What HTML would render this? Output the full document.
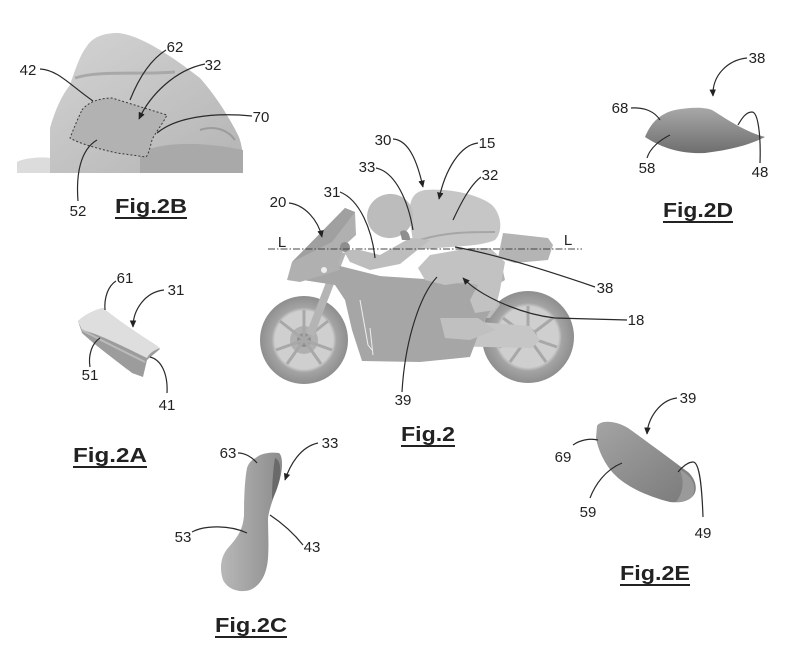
<!DOCTYPE html>
<html><head><meta charset="utf-8"><style>
html,body{margin:0;padding:0;background:#fff;}
svg{display:block;}
text{font-family:"Liberation Sans",Arial,sans-serif;fill:#222;}
.n{font-size:15px;text-anchor:middle;}
.f{font-size:20px;font-weight:bold;}
.ld{fill:none;stroke:#2a2a2a;stroke-width:1.2;}
</style></head><body>
<svg width="800" height="647" viewBox="0 0 800 647" xmlns="http://www.w3.org/2000/svg">
<defs>
<marker id="a" viewBox="0 0 10 10" refX="9" refY="5" markerWidth="6" markerHeight="6" orient="auto"><path d="M0,0.5 L10,5 L0,9.5 z" fill="#222"/></marker>
<linearGradient id="gD" x1="0" y1="0" x2="0" y2="1"><stop offset="0" stop-color="#a8a8a8"/><stop offset="1" stop-color="#6e6e6e"/></linearGradient>
<linearGradient id="gE" x1="0" y1="0" x2="1" y2="1"><stop offset="0" stop-color="#a4a4a4"/><stop offset="0.6" stop-color="#8a8a8a"/><stop offset="1" stop-color="#7a7a7a"/></linearGradient>
<linearGradient id="gC" x1="0" y1="0" x2="1" y2="0"><stop offset="0" stop-color="#b8b8b8"/><stop offset="1" stop-color="#8c8c8c"/></linearGradient>
<linearGradient id="gB" x1="0" y1="0" x2="1" y2="1"><stop offset="0" stop-color="#d6d6d6"/><stop offset="1" stop-color="#b4b4b4"/></linearGradient>
<radialGradient id="gW" cx="0.5" cy="0.5" r="0.5"><stop offset="0.66" stop-color="#cfcfcf"/><stop offset="0.74" stop-color="#a4a4a4"/><stop offset="1" stop-color="#8e8e8e"/></radialGradient>
</defs>

<!-- ===== Fig 2B ===== -->
<path d="M17,173 L17,162 C25,158 40,157 50,158 L50,128 C55,110 62,95 70,85 C75,70 80,55 87,46 C92,38 102,33 118,33 C140,35 170,55 200,78 C215,95 228,115 238,135 C243,145 243,160 243,173 Z" fill="url(#gB)"/>
<path d="M17,173 L17,162 C25,158 40,157 50,158 L50,173 Z" fill="#dcdcdc"/>
<path d="M75,78 C100,70 140,75 175,72" fill="none" stroke="#a8a8a8" stroke-width="3"/>
<path d="M140,152 C170,140 210,143 243,150 L243,173 L140,173 Z" fill="#a9a9a9"/>
<path d="M200,130 C215,125 228,130 235,140" fill="none" stroke="#9c9c9c" stroke-width="2"/>
<path d="M82,110 C88,102 100,98 112,98 L167,115 C162,125 155,133 152,140 C150,148 148,155 146,157 L117,153 C95,148 78,143 70,138 C74,128 78,118 82,110 Z" fill="#b2b2b2" stroke="#3a3a3a" stroke-width="1" stroke-dasharray="2,2"/>

<text class="n" x="28" y="75">42</text>
<text class="n" x="175" y="52">62</text>
<text class="n" x="213" y="70">32</text>
<text class="n" x="261" y="122">70</text>
<text class="n" x="78" y="216">52</text>
<path class="ld" d="M40,69 C58,70 70,85 93,101"/>
<path class="ld" d="M166,50 C150,60 138,80 130,100"/>
<path class="ld" d="M205,64 C175,70 150,95 139,119" marker-end="url(#a)"/>
<path class="ld" d="M252,116 C210,112 175,118 157,133"/>
<path class="ld" d="M78,201 C76,175 80,150 97,140"/>
<text class="f" x="115" y="213" textLength="72" lengthAdjust="spacingAndGlyphs">Fig.2B</text>
<line x1="115" y1="218" x2="187" y2="218" stroke="#222" stroke-width="2"/>

<!-- ===== Fig 2 bike ===== -->
<!-- rear wheel -->
<circle cx="528" cy="337" r="46" fill="url(#gW)"/>
<circle cx="528" cy="337" r="9" fill="#a0a0a0"/>
<g stroke="#a8a8a8" stroke-width="3">
<line x1="528" y1="337" x2="528" y2="306"/><line x1="528" y1="337" x2="557" y2="347"/><line x1="528" y1="337" x2="546" y2="362"/><line x1="528" y1="337" x2="510" y2="362"/><line x1="528" y1="337" x2="499" y2="347"/><line x1="528" y1="337" x2="553" y2="318"/><line x1="528" y1="337" x2="503" y2="318"/>
</g>
<!-- swingarm -->
<path d="M430,318 L530,326 L540,340 L532,348 L440,346 L425,335 Z" fill="#c6c6c6"/>
<!-- front wheel -->
<circle cx="304" cy="340" r="44" fill="url(#gW)"/>
<circle cx="304" cy="340" r="14" fill="#b0b0b0"/>
<circle cx="304" cy="340" r="7" fill="#909090"/>
<g stroke="#a8a8a8" stroke-width="3">
<line x1="304" y1="340" x2="304" y2="310"/><line x1="304" y1="340" x2="332" y2="350"/><line x1="304" y1="340" x2="321" y2="364"/><line x1="304" y1="340" x2="287" y2="364"/><line x1="304" y1="340" x2="276" y2="350"/><line x1="304" y1="340" x2="328" y2="321"/><line x1="304" y1="340" x2="280" y2="321"/>
</g>
<!-- fork -->
<line x1="310" y1="335" x2="342" y2="252" stroke="#b4b4b4" stroke-width="8"/>
<!-- engine area -->
<path d="M440,282 L490,285 L500,305 L490,318 L445,318 Z" fill="#bcbcbc"/>
<!-- main fairing -->
<path d="M290,278 L340,266 L380,276 L440,280 L488,288 L496,300 L480,330 L470,357 L420,362 L362,361 L352,330 L345,300 L335,285 Z" fill="#a6a6a6"/>
<path d="M360,300 L368,345 L372,350" fill="none" stroke="#eee" stroke-width="1"/>
<path d="M370,328 L373,355" fill="none" stroke="#eee" stroke-width="1"/>
<path d="M440,318 L478,318 L495,330 L470,340 L445,338 Z" fill="#c0c0c0"/>
<!-- front upper fairing -->
<path d="M287,280 L292,262 L345,208 L355,212 L356,235 L345,245 L338,262 L340,270 L300,282 Z" fill="#b0b0b0"/>
<path d="M292,262 L345,208 L355,212 L332,242 Z" fill="#a0a0a0"/>
<circle cx="324" cy="270" r="3" fill="#eee"/>
<!-- tail -->
<path d="M498,258 L503,233 L548,238 L553,245 L548,260 L515,263 Z" fill="#b4b4b4"/>
<path d="M455,262 L500,258 L505,280 L488,290 L455,282 Z" fill="#b2b2b2"/>
<!-- rider legs -->
<path d="M418,268 L430,255 L470,248 L490,248 L505,262 L500,290 L495,310 L475,313 L470,300 L478,285 L465,282 L445,285 L425,280 Z" fill="#c2c2c2"/>
<!-- torso -->
<path d="M410,222 C408,202 412,192 425,190 C450,188 480,195 492,205 C502,215 503,232 495,240 C480,247 450,246 430,249 L414,248 Z" fill="#c6c6c6"/>
<path d="M420,240 C445,232 470,232 495,232" fill="none" stroke="#a6a6a6" stroke-width="2"/>
<!-- arm -->
<path d="M410,238 L430,240 L400,264 L370,270 L350,262 L343,250 L360,250 L380,255 Z" fill="#bdbdbd"/>
<!-- handlebar -->
<circle cx="345" cy="247" r="5" fill="#8e8e8e"/>
<!-- helmet -->
<ellipse cx="390" cy="216" rx="23" ry="22" transform="rotate(-15 390 216)" fill="#bcbcbc"/>
<path d="M400,232 C405,228 410,232 410,240 L402,240 Z" fill="#8e8e8e"/>

<!-- L axis -->
<line x1="268" y1="249" x2="582" y2="249" stroke="#444" stroke-width="1" stroke-dasharray="7,2,1.5,2"/>
<text class="n" x="282" y="247">L</text>
<text class="n" x="568" y="245">L</text>

<!-- Fig 2 labels -->
<text class="n" x="278" y="207">20</text>
<text class="n" x="332" y="197">31</text>
<text class="n" x="367" y="172">33</text>
<text class="n" x="383" y="145">30</text>
<text class="n" x="487" y="148">15</text>
<text class="n" x="490" y="180">32</text>
<text class="n" x="605" y="293">38</text>
<text class="n" x="636" y="325">18</text>
<text class="n" x="403" y="405">39</text>
<path class="ld" d="M289,203 C305,205 318,220 322,237" marker-end="url(#a)"/>
<path class="ld" d="M340,192 C360,200 372,230 375,258"/>
<path class="ld" d="M376,168 C395,172 408,200 413,230"/>
<path class="ld" d="M393,139 C410,140 418,165 423,187" marker-end="url(#a)"/>
<path class="ld" d="M478,143 C460,145 445,170 439,199" marker-end="url(#a)"/>
<path class="ld" d="M481,177 C470,185 460,205 453,220"/>
<path class="ld" d="M595,287 C560,275 500,255 455,247"/>
<path class="ld" d="M627,320 L555,318 C520,314 480,296 463,278" marker-end="url(#a)"/>
<path class="ld" d="M402,392 C405,340 420,295 437,277"/>
<text class="f" x="401" y="441" textLength="54" lengthAdjust="spacingAndGlyphs">Fig.2</text>
<line x1="401" y1="446" x2="455" y2="446" stroke="#222" stroke-width="2"/>

<!-- ===== Fig 2D ===== -->
<path d="M645,137 C650,125 658,114 675,110 C690,107 705,107 712,110 C725,118 745,132 765,137 C750,145 730,150 705,153 C685,154 665,150 645,137 Z" fill="url(#gD)"/>
<text class="n" x="757" y="63">38</text>
<text class="n" x="620" y="113">68</text>
<text class="n" x="647" y="173">58</text>
<text class="n" x="760" y="177">48</text>
<path class="ld" d="M747,58 C728,60 712,75 713,96" marker-end="url(#a)"/>
<path class="ld" d="M631,108 C645,107 655,112 660,120"/>
<path class="ld" d="M647,158 C650,148 660,140 670,135"/>
<path class="ld" d="M760,163 C761,135 758,112 752,112 C746,112 742,118 738,125"/>
<text class="f" x="663" y="217" textLength="70" lengthAdjust="spacingAndGlyphs">Fig.2D</text>
<line x1="663" y1="222" x2="733" y2="222" stroke="#222" stroke-width="2"/>

<!-- ===== Fig 2A ===== -->
<path d="M78,321 L82,333 C95,345 115,360 132,373 L143,377 L147,360 L160,349 L157,346 C140,335 120,322 103,308 C95,310 86,314 78,321 Z" fill="#9c9c9c"/>
<path d="M78,321 C86,314 95,310 103,308 C120,322 140,335 160,348 C155,350 150,352 147,358 C130,350 100,334 82,330 Z" fill="#dedede"/>
<path d="M82,330 C100,340 125,352 145,362" fill="none" stroke="#bbb" stroke-width="2"/>
<text class="n" x="125" y="283">61</text>
<text class="n" x="176" y="295">31</text>
<text class="n" x="90" y="380">51</text>
<text class="n" x="167" y="410">41</text>
<path class="ld" d="M116,281 C108,286 104,298 105,310"/>
<path class="ld" d="M164,290 C145,292 133,310 133,327" marker-end="url(#a)"/>
<path class="ld" d="M90,367 C88,355 92,343 100,338"/>
<path class="ld" d="M167,393 C168,375 162,360 150,357"/>
<text class="f" x="73" y="462" textLength="74" lengthAdjust="spacingAndGlyphs">Fig.2A</text>
<line x1="73" y1="467" x2="147" y2="467" stroke="#222" stroke-width="2"/>

<!-- ===== Fig 2C ===== -->
<path d="M257,457 C262,453 272,452 279,453 C283,456 283,470 279,482 C275,495 270,505 268,518 C268,530 269,545 268,558 C267,572 262,585 250,590 C240,593 228,590 223,580 C219,568 221,556 228,548 C237,538 243,530 244,515 C244,495 245,478 247,468 C249,462 252,460 257,457 Z" fill="url(#gC)"/>
<path d="M275,458 C280,460 282,470 279,482 C277,490 274,496 272,500 C272,485 273,470 275,458 Z" fill="#6a6a6a"/>
<text class="n" x="330" y="448">33</text>
<text class="n" x="228" y="458">63</text>
<text class="n" x="183" y="542">53</text>
<text class="n" x="312" y="552">43</text>
<path class="ld" d="M318,443 C300,447 290,465 285,480" marker-end="url(#a)"/>
<path class="ld" d="M238,453 C245,453 252,457 257,463"/>
<path class="ld" d="M192,532 C205,525 230,525 247,533"/>
<path class="ld" d="M303,545 C295,535 285,525 270,515"/>
<text class="f" x="215" y="632" textLength="72" lengthAdjust="spacingAndGlyphs">Fig.2C</text>
<line x1="215" y1="637" x2="287" y2="637" stroke="#222" stroke-width="2"/>

<!-- ===== Fig 2E ===== -->
<path d="M597,426 C600,420 615,420 628,428 C645,440 665,455 688,472 C697,480 698,492 692,497 C688,501 680,503 670,502 C650,497 628,488 615,475 C605,465 598,450 596,438 Z" fill="url(#gE)"/>
<path d="M680,470 C692,476 698,486 692,497 C688,501 680,503 676,502 C684,492 684,480 680,470 Z" fill="#9a9a9a"/>
<text class="n" x="688" y="403">39</text>
<text class="n" x="563" y="462">69</text>
<text class="n" x="588" y="517">59</text>
<text class="n" x="703" y="538">49</text>
<path class="ld" d="M677,398 C660,400 648,418 647,434" marker-end="url(#a)"/>
<path class="ld" d="M573,445 C580,440 590,438 598,440"/>
<path class="ld" d="M590,498 C595,485 605,470 622,463"/>
<path class="ld" d="M703,517 C702,490 700,462 693,462 C688,462 682,467 678,472"/>
<text class="f" x="620" y="580" textLength="70" lengthAdjust="spacingAndGlyphs">Fig.2E</text>
<line x1="620" y1="585" x2="690" y2="585" stroke="#222" stroke-width="2"/>
</svg>
</body></html>
